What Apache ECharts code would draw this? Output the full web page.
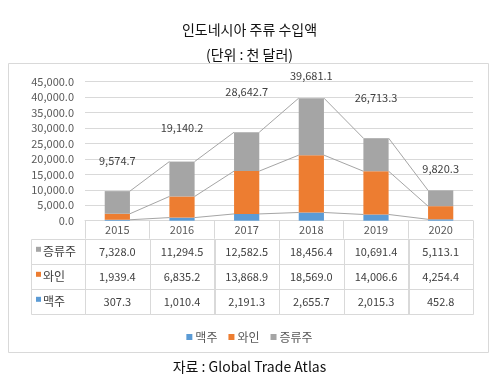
<!DOCTYPE html>
<html><head><meta charset="utf-8">
<script src="https://cdn.jsdelivr.net/npm/echarts@6/dist/echarts.min.js"></script>
<style>html,body{margin:0;padding:0;background:#fff}#c{width:499px;height:387px}</style>
</head><body><div id="c"></div>
<script>
// ---- data ----
const years = ['2015', '2016', '2017', '2018', '2019', '2020'];
const seriesNames = ['맥주', '와인', '증류주'];
const beer = [307.3, 1010.4, 2191.3, 2655.7, 2015.3, 452.8];
const wine = [1939.4, 6835.2, 13868.9, 18569.0, 14006.6, 4254.4];
const spirits = [7328.0, 11294.5, 12582.5, 18456.4, 10691.4, 5113.1];
const totals = [9574.7, 19140.2, 28642.7, 39681.1, 26713.3, 9820.3];
const titleText = '인도네시아 주류 수입액';
const unitText = '(단위 : 천 달러)';
const sourceText = '자료 : Global Trade Atlas';

// ---- style ----
const colors = { '맥주': '#5B9BD5', '와인': '#ED7D31', '증류주': '#A5A5A5' };
const FONT = '"Noto Sans CJK KR", "Open Sans", sans-serif';
const gridColor = '#D9D9D9';
const textColor = '#595959';
const totalLift = [30, 34, 40, 22, 40, 22];
const BARW = 0.39;

const fmt = v => v.toLocaleString('en-US', { minimumFractionDigits: 1, maximumFractionDigits: 1 });
const valuesOf = { '맥주': beer, '와인': wine, '증류주': spirits };
const tableRows = ['증류주', '와인', '맥주'];
const cum1 = beer;
const cum2 = beer.map((v, i) => v + wine[i]);
const cum3 = cum2.map((v, i) => v + spirits[i]);
const levels = [cum1, cum2, cum3];

const chart = echarts.init(document.getElementById('c'), null, { renderer: 'canvas' });

const barSeries = seriesNames.map(n => ({
  name: n, type: 'bar', stack: 'total', barWidth: (BARW * 100) + '%',
  itemStyle: { color: colors[n] }, data: valuesOf[n], z: 3
}));

const titleStyle = { fontFamily: FONT, fontSize: 14, fontWeight: 'normal', color: '#111' };

const option = {
  backgroundColor: '#fff',
  animation: false,
  textStyle: { fontFamily: FONT },
  title: [
    { text: titleText, left: 'center', top: 18, textStyle: titleStyle },
    { text: unitText, left: 'center', top: 43, textStyle: titleStyle },
    { text: sourceText, left: 'center', top: 355, textStyle: titleStyle }
  ],
  graphic: [{
    type: 'rect', shape: { x: 8.5, y: 63.5, width: 480, height: 289 },
    style: { fill: 'none', stroke: gridColor, lineWidth: 1 }, silent: true, z: -1
  }],
  legend: {
    data: seriesNames, left: 'center', top: 326, icon: 'rect', itemWidth: 6, itemHeight: 6,
    itemGap: 11, textStyle: { fontFamily: FONT, fontSize: 12, color: textColor, padding: [0, 0, 0, -2] }
  },
  grid: [
    { left: 85, right: 26, top: 81.7, bottom: 166.3 },
    { left: 85, right: 26, top: 239.3, bottom: 72.7 }
  ],
  xAxis: [
    {
      type: 'category', data: years, gridIndex: 0,
      axisLine: { lineStyle: { color: gridColor } },
      axisTick: { show: true, length: 18, lineStyle: { color: gridColor } },
      axisLabel: { fontFamily: FONT, fontSize: 11, color: textColor, margin: 4 }
    },
    {
      type: 'category', data: years, gridIndex: 1,
      axisLine: { show: false }, axisTick: { show: false }, axisLabel: { show: false }
    }
  ],
  yAxis: [
    {
      type: 'value', min: 0, max: 45000, interval: 5000, gridIndex: 0,
      axisLine: { show: false }, axisTick: { show: false },
      splitLine: { lineStyle: { color: gridColor } },
      axisLabel: { fontFamily: FONT, fontSize: 11, color: textColor, margin: 11, formatter: v => fmt(v) }
    },
    {
      type: 'category', data: tableRows, inverse: true, gridIndex: 1,
      axisLine: { show: false }, axisTick: { show: false }, axisLabel: { show: false }, splitLine: { show: false }
    }
  ],
  series: [
    ...barSeries,
    {
      type: 'custom', name: 'serieslines', xAxisIndex: 0, yAxisIndex: 0, z: 2, silent: true,
      data: years.slice(0, years.length - 1).map((_, i) => [i, 0]),
      renderItem: (params, api) => {
        const i = params.dataIndex;
        const half = api.size([1, 0])[0] * BARW / 2;
        return {
          type: 'group',
          children: levels.map(lv => {
            const a = api.coord([i, lv[i]]);
            const b = api.coord([i + 1, lv[i + 1]]);
            return {
              type: 'line',
              shape: { x1: a[0] + half, y1: a[1], x2: b[0] - half, y2: b[1] },
              style: { stroke: '#A5A5A5', lineWidth: 1 }
            };
          })
        };
      }
    },
    {
      type: 'custom', name: 'totals', xAxisIndex: 0, yAxisIndex: 0, z: 4, silent: true,
      data: totals.map((t, i) => [i, t]),
      renderItem: (params, api) => {
        const i = params.dataIndex;
        const p = api.coord([api.value(0), api.value(1)]);
        return {
          type: 'text',
          style: {
            x: p[0], y: p[1] - totalLift[i], text: fmt(totals[i]),
            textAlign: 'center', textVerticalAlign: 'middle',
            font: '11px ' + FONT, fill: '#404040'
          }
        };
      }
    },
    {
      type: 'custom', name: 'table', xAxisIndex: 1, yAxisIndex: 1, z: 4, silent: true, clip: false,
      data: tableRows.map((_, r) => [0, r]),
      renderItem: (params, api) => {
        const r = params.dataIndex;
        const name = tableRows[r];
        const vals = valuesOf[name];
        const cw = api.size([1, 0])[0];
        const rh = api.size([0, 1])[1];
        const children = [];
        for (let c = 0; c < years.length; c++) {
          const p = api.coord([c, r]);
          children.push({
            type: 'rect',
            shape: { x: Math.round(p[0] - cw / 2) + 0.5, y: Math.round(p[1] - rh / 2) + 0.5, width: Math.round(cw), height: Math.round(rh) },
            style: { fill: 'none', stroke: gridColor, lineWidth: 1 }
          });
          children.push({
            type: 'text',
            style: { x: p[0], y: p[1], text: fmt(vals[c]), textAlign: 'center', textVerticalAlign: 'middle', font: '11px ' + FONT, fill: '#404040' }
          });
        }
        const p0 = api.coord([0, r]);
        const x0 = p0[0] - cw / 2;
        children.push({
          type: 'rect',
          shape: { x: Math.round(x0 - 54) + 0.5, y: Math.round(p0[1] - rh / 2) + 0.5, width: 54, height: Math.round(rh) },
          style: { fill: 'none', stroke: gridColor, lineWidth: 1 }
        });
        children.push({
          type: 'rect',
          shape: { x: x0 - 49, y: p0[1] - 5, width: 5, height: 5 },
          style: { fill: colors[name] }
        });
        children.push({
          type: 'text',
          style: { x: x0 - 42, y: p0[1], text: name, textAlign: 'left', textVerticalAlign: 'middle', font: '12px ' + FONT, fill: '#404040' }
        });
        return { type: 'group', children };
      }
    }
  ]
};
chart.setOption(option);
</script>
</body></html>
